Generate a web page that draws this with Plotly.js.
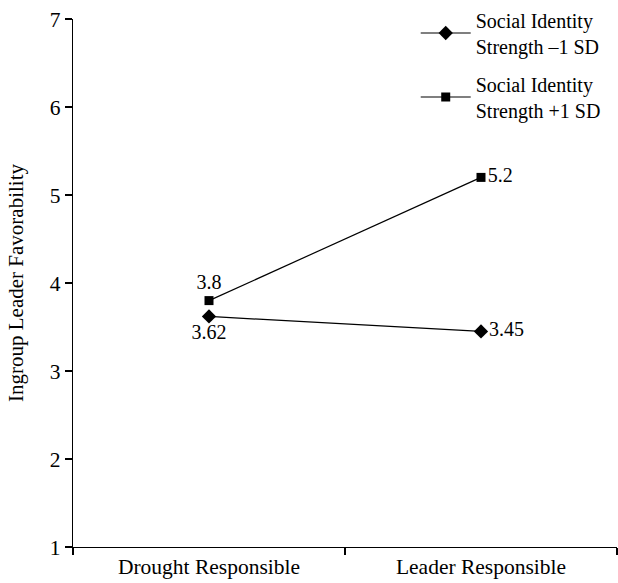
<!DOCTYPE html>
<html>
<head>
<meta charset="utf-8">
<script src="https://cdn.plot.ly/plotly-3.0.1.min.js"></script>
<style>html,body{margin:0;padding:0;background:#fff;}#chart{width:618px;height:583px;}</style>
</head>
<body>
<div id="chart"></div>
<script>
const categories = ["Drought Responsible", "Leader Responsible"];
const seriesNames = ["Social Identity<br>Strength \u20131 SD", "Social Identity<br>Strength +1 SD"];
const lowSD = [3.62, 3.45];
const highSD = [3.8, 5.2];
const lowLabels = ["3.62", "3.45"];
const highLabels = ["3.8", "5.2"];
const yTicks = [1, 2, 3, 4, 5, 6, 7];

const serif = "'Liberation Serif', 'Times New Roman', serif";

const traces = [
  {
    x: categories, y: lowSD, name: seriesNames[0], legendgroup: "low", type: "scatter", mode: "lines+markers+text",
    text: lowLabels, textposition: ["bottom center", "middle right"],
    textfont: {family: serif, size: 20, color: "#000"},
    line: {color: "#000", width: 1.2},
    marker: {symbol: "diamond", size: 11, color: "#000"}
  },
  {
    x: categories, y: highSD, name: seriesNames[1], legendgroup: "high", type: "scatter", mode: "lines+markers+text",
    text: highLabels, textposition: ["top center", "middle right"],
    textfont: {family: serif, size: 20, color: "#000"},
    line: {color: "#000", width: 1.2},
    marker: {symbol: "square", size: 9, color: "#000"}
  }
];

const layout = {
  width: 618, height: 583,
  margin: {l: 73, r: 1, t: 16, b: 36},
  paper_bgcolor: "#fff", plot_bgcolor: "#fff",
  font: {family: serif, color: "#000", size: 20},
  showlegend: true,
  legend: {
    x: 0.63, y: 1.035, xanchor: "left", yanchor: "top",
    font: {family: serif, size: 20, color: "#000"},
    bgcolor: "rgba(0,0,0,0)", tracegroupgap: 9, itemwidth: 50
  },
  xaxis: {
    type: "category", range: [-0.5, 1.5],
    showline: true, linecolor: "#000", linewidth: 1.2,
    ticks: "outside", tickson: "boundaries", ticklen: 7, tickcolor: "#000", tickwidth: 1.2,
    showgrid: false, zeroline: false,
    tickfont: {family: serif, size: 21.5, color: "#000"}
  },
  yaxis: {
    range: [1, 7], tickvals: yTicks, ticktext: yTicks.map(String),
    showline: true, linecolor: "#000", linewidth: 1.2,
    ticks: "outside", ticklen: 7, tickcolor: "#000", tickwidth: 1.2,
    showgrid: false, zeroline: false,
    tickfont: {family: serif, size: 21.5, color: "#000"},
    title: {text: "Ingroup Leader Favorability", font: {family: serif, size: 21, color: "#000"}, standoff: 20}
  }
};

Plotly.newPlot("chart", traces, layout, {displayModeBar: false, staticPlot: true});
</script>
</body>
</html>
